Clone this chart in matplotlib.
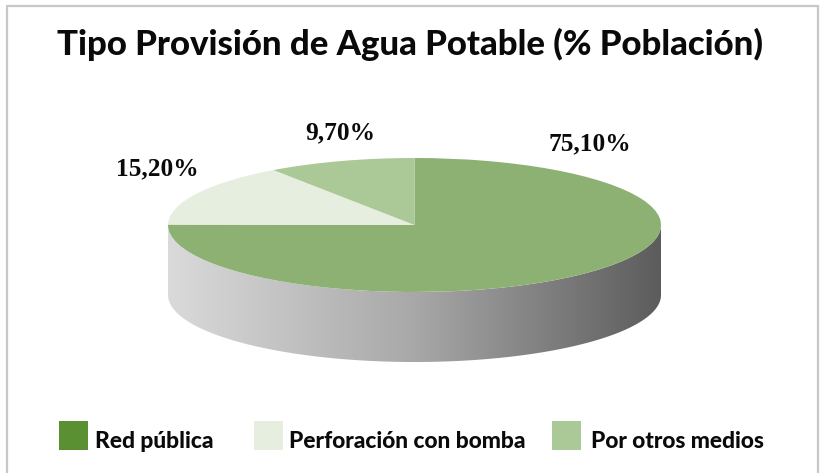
import numpy as np
import matplotlib
matplotlib.use("Agg")
import matplotlib.pyplot as plt
from matplotlib.patches import PathPatch, Rectangle
from matplotlib.path import Path
from matplotlib.lines import Line2D

categories = ["Red pública", "Perforación con bomba", "Por otros medios"]
values = [75.1, 15.2, 9.7]
labels = ["75,10%", "15,20%", "9,70%"]
colors_top = ["#8DB173", "#E6EEDF", "#ABC897"]
colors_legend = ["#5A8F32", "#E6EEDF", "#ABC897"]
title = "Tipo Provisión de Agua Potable (% Población)"

W, H = 823, 473
CX, CY, RX, RY, DEPTH = 414.5, 225, 246.5, 67, 70
FONT = ["Lato", "DejaVu Sans"]
SERIF = ["Liberation Serif", "DejaVu Serif"]

fig = plt.figure(figsize=(W / 100, H / 100), dpi=100, facecolor="white")
bg = fig.add_axes([0, 0, 1, 1])
bg.set_xlim(0, W)
bg.set_ylim(H, 0)
bg.axis("off")
bg.add_line(Line2D([7.5, 7.5, 818.5, 818.5], [H, 6, 6, H], color="#C8C8C8", lw=1.6,
                   solid_joinstyle="miter"))

# side wall
t = np.linspace(np.pi, 0, 200)
xs = CX + RX * np.cos(t)
ys = CY + RY * np.sin(t)
verts = list(zip(xs, ys)) + list(zip(xs[::-1], ys[::-1] + DEPTH))
side = PathPatch(Path(verts + [verts[0]], closed=True), fc="none", ec="none")
bg.add_patch(side)
grad = np.linspace(0, 1, 256).reshape(1, -1)
cmap = matplotlib.colors.LinearSegmentedColormap.from_list("g", ["#DADADA", "#A8A8A8", "#5C5C5C"])
im = bg.imshow(grad, extent=(CX - RX, CX + RX, CY + RY + DEPTH, CY - RY), cmap=cmap, aspect="auto", zorder=1)
im.set_clip_path(side)
bg.set_xlim(0, W)
bg.set_ylim(H, 0)

# top of the pie, flattened circle
ax = fig.add_axes([(CX - RX) / W, 1 - (CY + RY) / H, 2 * RX / W, 2 * RY / H])
ax.pie(values, colors=colors_top, startangle=90, counterclock=False, radius=1,
       wedgeprops=dict(linewidth=0))
ax.set_aspect("auto")
ax.set_xlim(-1, 1)
ax.set_ylim(-1, 1)
ax.patch.set_alpha(0)

# labels
label_pos = [(590, 144), (157, 169), (340, 133)]
for s, (x, y) in zip(labels, label_pos):
    bg.text(x, y, s, fontsize=18.3, fontweight="bold", family=SERIF, ha="center", va="center", color="#0A0A0A")

bg.text(410, 44, title, fontsize=25, fontweight="black", family=FONT, ha="center", va="center", color="#0A0A0A")

# legend
sw = [(59, 88), (254, 283), (552, 581)]
tx = [95, 289, 591]
for c, s, (a, b), x in zip(colors_legend, categories, sw, tx):
    bg.add_patch(Rectangle((a, 421), b - a, 29, fc=c, ec="none"))
    bg.text(x, 441, s, fontsize=16.4, fontweight="black", family=FONT, ha="left", va="center", color="#0A0A0A")

fig.savefig("out.png", dpi=100)
